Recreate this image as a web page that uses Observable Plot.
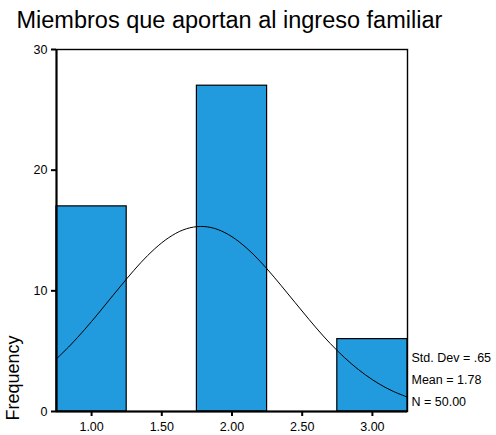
<!DOCTYPE html>
<html>
<head>
<meta charset="utf-8">
<script src="https://cdn.jsdelivr.net/npm/d3@7"></script>
<script src="https://cdn.jsdelivr.net/npm/@observablehq/plot@0.6"></script>
<style>
  html, body { margin: 0; padding: 0; background: #fff; }
  #title {
    font-family: "Liberation Sans", Arial, sans-serif;
    font-size: 23.5px;
    line-height: 23.5px;
    height: 31px;
    padding-top: 9px;
    padding-left: 16.5px;
    color: #000;
    white-space: nowrap;
    box-sizing: content-box;
  }
  svg { display: block; }
</style>
</head>
<body>
<div id="title"></div>
<div id="chart"></div>
<script>
// ---- data ----
const titleText = "Miembros que aportan al ingreso familiar";
const binCenters = [1, 2, 3];
const binCounts = [17, 27, 6];
const binWidth = 0.5;

const xTickValues = [1, 1.5, 2, 2.5, 3];
const xTickLabels = ["1.00", "1.50", "2.00", "2.50", "3.00"];
const yTickValues = [0, 10, 20, 30];
const xDomain = [0.75, 3.25];
const yDomain = [0, 30];

// normal curve
const curveX = [0.75, 0.85, 0.95, 1.05, 1.15, 1.25, 1.35, 1.45, 1.55, 1.65, 1.75, 1.85, 1.95,
                2.05, 2.15, 2.25, 2.35, 2.45, 2.55, 2.65, 2.75, 2.85, 2.95, 3.05, 3.15, 3.25];
const curveY = [4.37, 5.51, 6.79, 8.16, 9.59, 11.00, 12.33, 13.49, 14.41, 15.04, 15.32, 15.25, 14.82,
                14.07, 13.05, 11.81, 10.44, 9.02, 7.61, 6.26, 5.04, 3.96, 3.04, 2.27, 1.66, 1.19];

const statLines = ["Std. Dev = .65", "Mean = 1.78", "N = 50.00"];
const yLabel = "Frequency";

// ---- build tables ----
document.getElementById("title").textContent = titleText;
const bars = binCenters.map((c, i) => ({x1: c - binWidth / 2, x2: c + binWidth / 2, count: binCounts[i]}));
const curve = curveX.map((x, i) => ({x, y: curveY[i]}));
const xLabelMap = new Map(xTickValues.map((v, i) => [v, xTickLabels[i]]));

const font = "'Liberation Sans', Arial, sans-serif";

const chart = Plot.plot({
  width: 496,
  height: 395,
  marginTop: 9,
  marginBottom: 24,
  marginLeft: 56,
  marginRight: 89,
  style: {fontFamily: font, background: "#fff", color: "#000", overflow: "visible"},
  x: {domain: xDomain},
  y: {domain: yDomain},
  marks: [
    Plot.rect(bars, {x1: "x1", x2: "x2", y1: 0, y2: "count", fill: "#229ade", stroke: "#000", strokeWidth: 1.2}),
    Plot.line(curve, {x: "x", y: "y", stroke: "#000", strokeWidth: 1, curve: "catmull-rom"}),
    Plot.frame({stroke: "#000", strokeWidth: 1.4}),
    Plot.ruleY([yDomain[0]], {stroke: "#000", strokeWidth: 2}),
    Plot.ruleX([xDomain[0]], {stroke: "#000", strokeWidth: 2}),
    Plot.axisY({ticks: yTickValues, tickSize: 5, tickPadding: 4, strokeWidth: 2, fontSize: 12.5, label: null, tickFormat: d => String(d)}),
    Plot.axisX({ticks: xTickValues, tickSize: 5, tickPadding: 6, strokeWidth: 2, fontSize: 12.5, label: null, tickFormat: d => xLabelMap.get(d)}),
    Plot.text([statLines.join("\n")], {frameAnchor: "bottom-right", textAnchor: "start", lineAnchor: "bottom", lineHeight: 1.76, dx: 4, dy: -6, fontSize: 12.5, fill: "#000"}),
    Plot.text([yLabel], {frameAnchor: "bottom-left", rotate: -90, textAnchor: "start", dx: -38, dy: 9, fontSize: 18, fill: "#000"})
  ]
});
document.getElementById("chart").appendChild(chart);
</script>
</body>
</html>
